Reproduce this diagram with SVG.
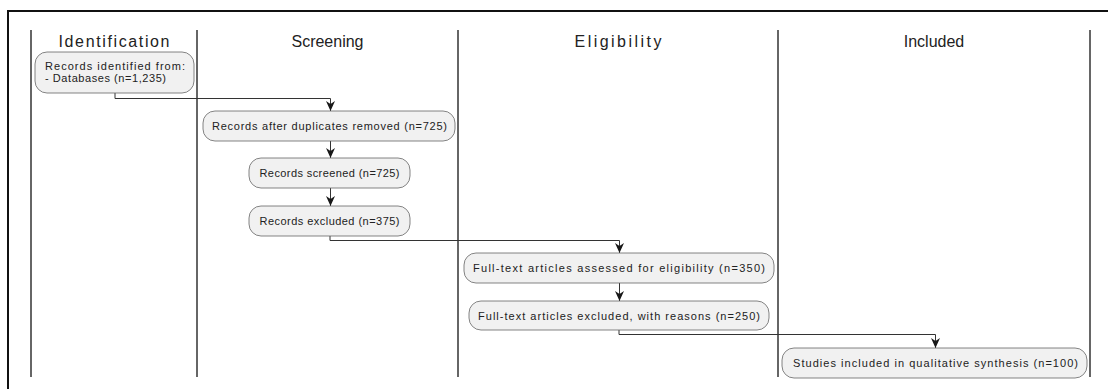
<svg xmlns="http://www.w3.org/2000/svg" width="1108" height="389" viewBox="0 0 1108 389">
<style>
.frame{fill:none;stroke:#111;stroke-width:2}
.lane{stroke:#333;stroke-width:1.5}
.hdr{font-family:"Liberation Sans",Arial,sans-serif;font-size:16px;fill:#222;text-anchor:middle}
.box{fill:#f1f1f1;stroke:#666;stroke-width:0.8}
.lbl{font-family:"Liberation Sans",Arial,sans-serif;font-size:11px;fill:#222}
.c{text-anchor:middle}
.edge{fill:none;stroke:#333;stroke-width:1}
</style>
<defs>
<marker id="ah" viewBox="0 0 10 10" refX="10" refY="5" markerWidth="10" markerHeight="10" orient="auto" markerUnits="userSpaceOnUse">
<path d="M0,0.5 L10,5 L0,9.5 L3,5 Z" fill="#181818"/>
</marker>
</defs>
<rect width="1108" height="389" fill="#fff"/>
<rect class="frame" x="8" y="11" width="1120" height="400"/>
<g id="lanes">
<line class="lane" x1="31" y1="30" x2="31" y2="377"/>
<line class="lane" x1="197" y1="30" x2="197" y2="377"/>
<line class="lane" x1="458" y1="30" x2="458" y2="377"/>
<line class="lane" x1="778" y1="30" x2="778" y2="377"/>
<line class="lane" x1="1090" y1="30" x2="1090" y2="377"/>
<text class="hdr" x="114" y="47" textLength="111" lengthAdjust="spacing">Identification</text>
<text class="hdr" x="327.5" y="47">Screening</text>
<text class="hdr" x="618" y="47" textLength="87" lengthAdjust="spacing">Eligibility</text>
<text class="hdr" x="934" y="47">Included</text>
</g>
<g id="connectors">
<path class="edge" d="M115,93 V98.5 H330.5 V111" marker-end="url(#ah)"/>
<path class="edge" d="M330.5,141 V158" marker-end="url(#ah)"/>
<path class="edge" d="M330.5,188 V206" marker-end="url(#ah)"/>
<path class="edge" d="M330,236 V240.5 H619.5 V253" marker-end="url(#ah)"/>
<path class="edge" d="M619.5,283 V301" marker-end="url(#ah)"/>
<path class="edge" d="M619,330 V334.5 H935.5 V348" marker-end="url(#ah)"/>
</g>
<g id="n1">
<rect class="box" x="35" y="52" width="159" height="41" rx="12"/>
<text class="lbl" x="45" y="70" textLength="140" lengthAdjust="spacing">Records identified from:</text>
<text class="lbl" x="45" y="82" textLength="121" lengthAdjust="spacing">- Databases (n=1,235)</text>
</g>
<g id="n2">
<rect class="box" x="203" y="111" width="252" height="30" rx="12"/>
<text class="lbl c" x="329.5" y="129.5" textLength="235" lengthAdjust="spacing">Records after duplicates removed (n=725)</text>
</g>
<g id="n3">
<rect class="box" x="249" y="158" width="161" height="30" rx="12"/>
<text class="lbl c" x="329.5" y="177" textLength="140" lengthAdjust="spacing">Records screened (n=725)</text>
</g>
<g id="n4">
<rect class="box" x="249" y="206" width="161" height="30" rx="12"/>
<text class="lbl c" x="329.5" y="224.5" textLength="140" lengthAdjust="spacing">Records excluded (n=375)</text>
</g>
<g id="n5">
<rect class="box" x="464" y="253" width="310" height="30" rx="12"/>
<text class="lbl c" x="619" y="272" textLength="292" lengthAdjust="spacing">Full-text articles assessed for eligibility (n=350)</text>
</g>
<g id="n6">
<rect class="box" x="469" y="301" width="300" height="29" rx="12"/>
<text class="lbl c" x="619" y="319.5" textLength="282" lengthAdjust="spacing">Full-text articles excluded, with reasons (n=250)</text>
</g>
<g id="n7">
<rect class="box" x="782" y="348" width="305" height="30" rx="12"/>
<text class="lbl c" x="935.5" y="367" textLength="285" lengthAdjust="spacing">Studies included in qualitative synthesis (n=100)</text>
</g>
</svg>
